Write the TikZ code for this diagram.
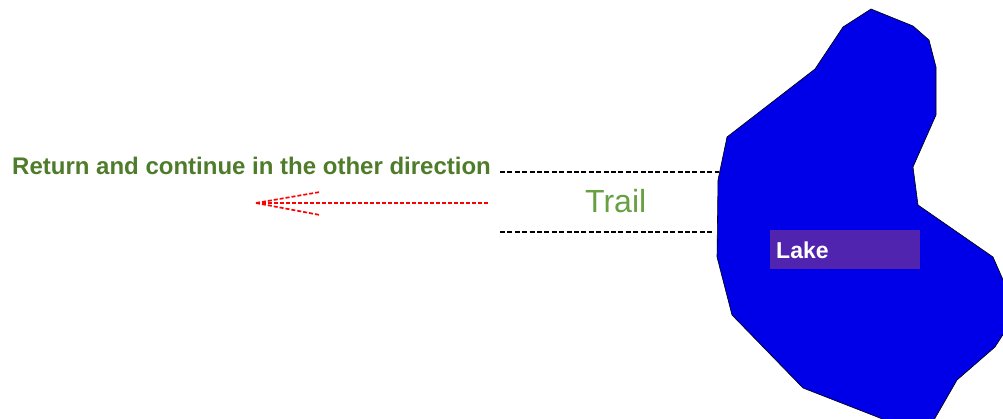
\documentclass[tikz,border=0pt]{standalone}
\usepackage{fontspec}
\setmainfont{Liberation Sans}
\usetikzlibrary{positioning,calc}
\definecolor{lakeblue}{RGB}{0,0,232}
\definecolor{labelpurple}{RGB}{81,36,176}
\definecolor{notegreen}{RGB}{78,124,42}
\definecolor{trailgreen}{RGB}{102,160,64}
\tikzset{
  water/.style  = { draw=black, line width=0.6pt, fill=lakeblue },
  trailedge/.style = { draw=black, line width=2.6pt, dash pattern=on 5pt off 2.4pt },
  backtrack/.style = { draw=red, line width=1.7pt, dash pattern=on 4pt off 2pt },
  notetext/.style = { inner sep=0pt, anchor=base west, text=notegreen,
    font=\fontsize{24}{28}\selectfont\bfseries },
  trailtext/.style = { inner sep=0pt, anchor=base west, text=trailgreen,
    font=\fontsize{32}{38}\selectfont },
  lakebox/.style = { fill=labelpurple, minimum width=150pt, minimum height=39pt,
    inner sep=0pt, anchor=north west },
  laketext/.style = { inner sep=0pt, anchor=base west, text=white,
    font=\fontsize{23}{28}\selectfont\bfseries }
}
\begin{document}
\begin{tikzpicture}[x=1pt,y=-1pt]
  \useasboundingbox (0,0) rectangle (1003,419);
  % lake outline
  \path[water] (871,9) -- (913,26) -- (929,40) -- (936,67) -- (936,115)
    -- (913,167) -- (918,205) -- (993,257) -- (1004,282) -- (1004,333)
    -- (995,347) -- (957,380) -- (934,420) -- (885,420) -- (803,388)
    -- (732,315) -- (717,257) -- (718,180) -- (727,137) -- (815,69)
    -- (843,27) -- cycle;
  \node[lakebox] (labelbox) at (770,230) {};
  \node[laketext] (lakelabel) at (776,259) {Lake};
  % trail
  \coordinate (trailN) at (500,172);
  \coordinate (trailS) at (500,232);
  \coordinate (shoreN) at (719,172);
  \coordinate (shoreS) at (712,232);
  \path[trailedge] (trailN) -- (shoreN);
  \path[trailedge] (trailS) -- (shoreS);
  \node[trailtext] (trail) at (585,213) {Trail};
  % way back
  \node[notetext] (note) at (12,175) {Return and continue in the other direction};
  \coordinate (backstart) at (488,203);
  \coordinate (backtip) at (256,203);
  \path[backtrack] (backstart) -- (backtip);
  \path[backtrack] (backtip) -- ++(64,-11);
  \path[backtrack] (backtip) -- ++(64,12);
\end{tikzpicture}
\end{document}
